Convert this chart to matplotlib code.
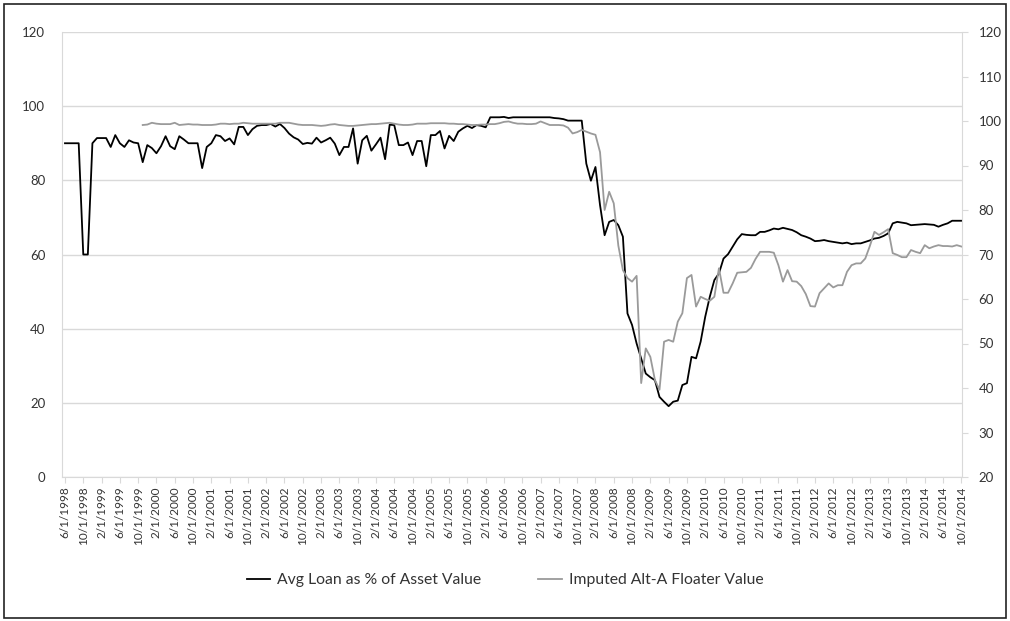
import numpy as np
import pandas as pd
import matplotlib
matplotlib.use("Agg")
import matplotlib.pyplot as plt
from matplotlib.patches import Rectangle

plt.rcParams['font.family'] = ['Lato', 'DejaVu Sans']

# monthly series, 6/1998 .. 10/2014
first_month = "1998-06-01"
last_month = "2014-10-01"

avg_loan = [
    90, 90, 90, 90, 60, 60, 90, 91.4, 91.4, 91.4,
    89, 92.2, 90, 89, 90.8, 90.2, 90, 84.9, 89.5, 88.7,
    87.3, 89.2, 91.9, 89.2, 88.4, 91.9, 91, 90, 90, 90,
    83.3, 89, 90, 92.2, 91.9, 90.6, 91.3, 89.7, 94.4, 94.4,
    92.2, 93.8, 94.7, 94.9, 94.9, 95.2, 94.5, 95.2, 94.1, 92.6,
    91.6, 91, 89.8, 90.1, 89.9, 91.5, 90.2, 90.8, 91.5, 89.9,
    86.8, 89, 89, 94, 84.5, 90.8, 92, 88, 89.7, 91.5,
    85.7, 95, 94.9, 89.5, 89.5, 90.2, 86.8, 90.6, 90.6, 83.8,
    92.2, 92.2, 93.3, 88.6, 92, 90.6, 93.1, 94, 94.7, 94.1,
    94.9, 94.7, 94.3, 97, 97, 97, 97.1, 96.8, 97, 97,
    97, 97, 97, 97, 97, 97, 97, 96.8, 96.7, 96.5,
    96.1, 96.1, 96.1, 96.1, 84.5, 79.9, 83.6, 73.3, 65.2, 68.8,
    69.3, 67.9, 64.8, 44.1, 41, 36, 32, 27.9, 26.9, 26.1,
    21.6, 20.3, 19.1, 20.3, 20.6, 24.8, 25.3, 32.4, 32, 36.5,
    43.2, 48.6, 53.1, 54.9, 58.9, 60.1, 62.1, 64.1, 65.5, 65.3,
    65.2, 65.2, 66.1, 66.1, 66.5, 67, 66.8, 67.2, 66.9, 66.6,
    66, 65.2, 64.8, 64.3, 63.6, 63.7, 63.9, 63.6, 63.4, 63.2,
    63, 63.2, 62.8, 63, 63, 63.4, 63.8, 64.3, 64.5, 65,
    65.7, 68.4, 68.8, 68.6, 68.4, 67.9, 68, 68.1, 68.2, 68.1,
    68, 67.5, 68, 68.4, 69.1, 69.1, 69.1,
]

# Alt-A floater starts 11/1999 (month index 17)
floater_start = 17
floater = [
    99.1, 99.2, 99.6, 99.4, 99.3, 99.3, 99.3, 99.6, 99.1, 99.2,
    99.3, 99.2, 99.2, 99.1, 99.1, 99.1, 99.2, 99.4, 99.4, 99.3,
    99.4, 99.4, 99.6, 99.5, 99.4, 99.4, 99.4, 99.4, 99.4, 99.4,
    99.6, 99.6, 99.6, 99.4, 99.2, 99.1, 99.1, 99.1, 99.0, 98.9,
    99.0, 99.2, 99.3, 99.1, 99.0, 98.9, 98.9, 99.0, 99.1, 99.2,
    99.3, 99.3, 99.4, 99.5, 99.6, 99.4, 99.2, 99.1, 99.1, 99.2,
    99.4, 99.4, 99.4, 99.5, 99.5, 99.5, 99.5, 99.4, 99.4, 99.3,
    99.3, 99.2, 99.1, 99.1, 99.2, 99.2, 99.3, 99.3, 99.5, 99.8,
    99.9, 99.6, 99.4, 99.4, 99.3, 99.3, 99.4, 99.9, 99.5, 99.1,
    99.1, 99.1, 99.0, 98.5, 97.2, 97.5, 98.0, 97.6, 97.2, 96.9,
    93, 80, 84.1, 81.5, 72, 66.5, 64.7, 63.9, 65.2, 41.1,
    48.9, 47, 41.8, 39.6, 50.4, 50.8, 50.4, 54.9, 56.8, 64.7,
    65.4, 58.3, 60.5, 60, 59.6, 60.5, 66.9, 61.4, 61.4, 63.5,
    65.9, 66, 66.1, 67, 69, 70.6, 70.6, 70.6, 70.4, 67.6,
    63.9, 66.5, 64, 63.9, 62.9, 61.1, 58.4, 58.3, 61.3, 62.4,
    63.5, 62.6, 63.1, 63.1, 66.1, 67.6, 68, 68, 69.1, 71.9,
    75.1, 74.4, 75, 75.7, 70.3, 69.9, 69.4, 69.4, 71, 70.6,
    70.3, 72.1, 71.4, 71.8, 72.1, 71.9, 71.9, 71.8, 72.1, 71.8,
]

months = pd.date_range(first_month, last_month, freq="MS")
tick_step = 4
tick_labels = [f"{d.month}/1/{d.year}" for d in months[::tick_step]]

grid_c = "#d9d9d9"
text_c = "#333333"

fig = plt.figure(figsize=(10.1, 6.21), dpi=100)
ax = fig.add_axes([62 / 1010, 1 - 477 / 621, 900 / 1010, 445 / 621])
ax2 = ax.twinx()

x_loan = np.arange(len(avg_loan))
x_float = floater_start + np.arange(len(floater))

l1, = ax.plot(x_loan, avg_loan, color="black", lw=1.3, zorder=3,
              label="Avg Loan as % of Asset Value")
l2, = ax2.plot(x_float, floater, color="#9a9a9a", lw=1.3, zorder=2,
               label="Imputed Alt-A Floater Value")

ax.set_ylim(0, 120)
ax.set_yticks(range(0, 121, 20))
ax2.set_ylim(20, 120)
ax2.set_yticks(range(20, 121, 10))
ax.set_xlim(-0.65, len(months) - 0.85)

ax.set_xticks(np.arange(0, len(months), tick_step))
ax.set_xticklabels(tick_labels, rotation=90, fontsize=8.5, color=text_c)
ax.yaxis.grid(True, color=grid_c, lw=1)
ax.set_axisbelow(True)

for a in (ax, ax2):
    a.spines["top"].set_visible(False)
    for s in ("left", "right", "bottom"):
        a.spines[s].set_color(grid_c)
ax.spines["right"].set_visible(False)
ax2.spines["left"].set_visible(False)
ax2.spines["bottom"].set_visible(False)

ax.tick_params(axis="y", length=0, labelsize=9.5, labelcolor=text_c, pad=12)
ax.tick_params(axis="x", length=4, color=grid_c, pad=3)
ax2.tick_params(axis="y", length=4, color=grid_c, labelsize=9.5,
                labelcolor=text_c, pad=8)

fig.legend(handles=[l1, l2], loc="center", bbox_to_anchor=(0.5, 1 - 580 / 621),
           ncol=2, frameon=False, fontsize=11.3, handlelength=1.5,
           handletextpad=0.45, columnspacing=3.6, labelcolor=text_c)

fig.patches.append(Rectangle((4 / 1010, 3 / 621), 1002 / 1010, 614 / 621,
                             transform=fig.transFigure, fill=False,
                             edgecolor="#222222", lw=1.2))

fig.savefig("out.png", dpi=100)
plt.close(fig)
